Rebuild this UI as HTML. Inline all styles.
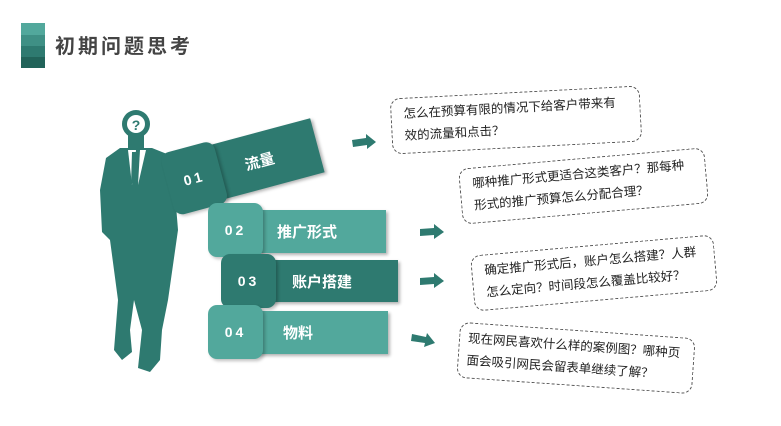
<!DOCTYPE html>
<html><head><meta charset="utf-8"><style>
body{margin:0;width:781px;height:426px;background:#fff;position:relative;overflow:hidden;font-family:"Liberation Sans","Noto Sans CJK SC",sans-serif}
.a{position:absolute}
.sq{position:absolute;border-radius:9px;color:#fff;font-weight:bold;font-size:14px;letter-spacing:3px;display:flex;align-items:center;justify-content:center;box-shadow:2px 2px 3px rgba(0,0,0,.25)}
.bar{position:absolute;color:#fff;font-weight:bold;font-size:15px;display:flex;align-items:center;box-shadow:2px 2px 3px rgba(0,0,0,.3)}
.box{position:absolute;border:1.3px dashed #555;border-radius:10px;font-size:12.5px;line-height:22px;color:#222;padding:4px 12px;box-sizing:border-box}
</style></head><body>
<div class="a" style="left:21px;top:23px;width:24px;height:12px;background:#52a89c"></div>
<div class="a" style="left:21px;top:35px;width:24px;height:11px;background:#3f9085"></div>
<div class="a" style="left:21px;top:46px;width:24px;height:11px;background:#2e7a70"></div>
<div class="a" style="left:21px;top:57px;width:24px;height:11px;background:#216359"></div>
<div class="a" style="left:55px;top:30px;font-size:20px;font-weight:bold;color:#444;letter-spacing:3px">初期问题思考</div>

<svg class="a" style="left:0;top:0" width="781" height="426">
<g fill="#2e7a70">
<circle cx="136" cy="124" r="14"/>
<rect x="128" y="132" width="16" height="18"/>
<path d="M120 148 L152 148 L172 156 L178 230 L168 300 L162 330 L160 360 L150 372 L138 368 L142 330 L134 300 L130 330 L132 352 L122 360 L114 350 L118 300 L110 240 L102 232 L100 190 L106 158 Z"/>
</g>
<circle cx="136" cy="124" r="9" fill="#fff"/>
<text x="136" y="130" font-size="14" font-weight="bold" fill="#2e7a70" text-anchor="middle" font-family="Liberation Sans">?</text>
<path d="M128 150 L136 150 L132 185 Z" fill="#fff"/>
<path d="M140 150 L146 150 L138 185 Z" fill="#fff"/>
<path d="M132 152 L136 152 L135 180 L131 185 Z" fill="#2e7a70"/>
<g fill="#2e7a70">
<path d="M352 140 L366 138 L366 134 L376 142 L367 149 L367 145 L353 147Z"/>
<path d="M420 229 L434 228 L434 224 L444 232 L434 239 L434 235 L420 236Z"/>
<path d="M420 278 L434 277 L434 273 L444 281 L434 288 L434 284 L420 285Z"/>
<path d="M412 334 L426 337 L427 333 L435 343 L424 347 L425 343 L411 341Z"/>
</g>
</svg>

<div class="a" style="left:178px;top:152px;width:158px;height:72px;transform:rotate(-15deg);transform-origin:0 100%">
<div class="bar" style="left:40px;top:4px;width:115px;height:56px;background:#2e7a70;padding-left:40px;box-sizing:border-box">流量</div>
<div class="sq" style="left:0;top:0;width:55px;height:64px;background:#2e7a70">01</div>
</div>

<div class="bar" style="left:255px;top:210px;width:131px;height:43px;background:#52a89c;padding-left:22px;box-sizing:border-box">推广形式</div>
<div class="sq" style="left:208px;top:203px;width:55px;height:54px;background:#52a89c">02</div>
<div class="bar" style="left:268px;top:260px;width:130px;height:42px;background:#2e7a70;padding-left:24px;box-sizing:border-box">账户搭建</div>
<div class="sq" style="left:221px;top:254px;width:55px;height:54px;background:#2e7a70">03</div>
<div class="bar" style="left:255px;top:311px;width:133px;height:43px;background:#52a89c;padding-left:28px;box-sizing:border-box">物料</div>
<div class="sq" style="left:208px;top:305px;width:55px;height:54px;background:#52a89c">04</div>

<div class="box" style="left:391px;top:92px;width:250px;height:56px;transform:rotate(-3deg)">怎么在预算有限的情况下给客户带来有<br>效的流量和点击？</div>
<div class="box" style="left:460px;top:158px;width:247px;height:56px;transform:rotate(-5deg)">哪种推广形式更适合这类客户？那每种<br>形式的推广预算怎么分配合理？</div>
<div class="box" style="left:472px;top:245px;width:244px;height:56px;transform:rotate(-5deg)">确定推广形式后，账户怎么搭建？人群<br>怎么定向？时间段怎么覆盖比较好？</div>
<div class="box" style="left:458px;top:330px;width:236px;height:56px;transform:rotate(4deg);padding-left:8px">现在网民喜欢什么样的案例图？哪种页<br>面会吸引网民会留表单继续了解？</div>
</body></html>
